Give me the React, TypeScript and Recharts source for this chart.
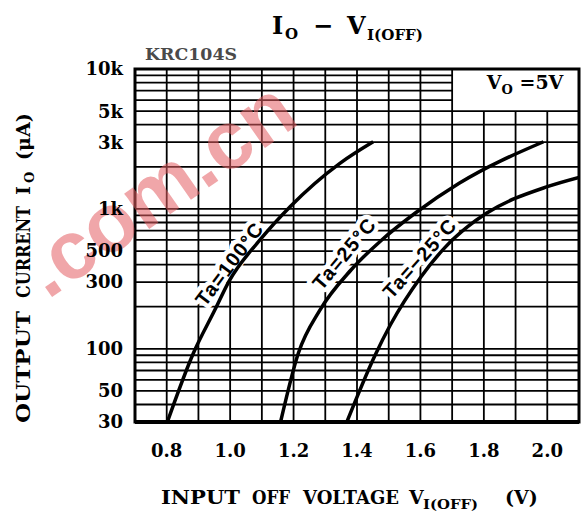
import React from 'react';
import {
  LineChart, Line, XAxis, YAxis, ReferenceLine, ReferenceArea, ReferenceDot,
} from 'recharts';

// ---- data ----
const xTicks = [0.8, 1.0, 1.2, 1.4, 1.6, 1.8, 2.0];
const xGrid = [0.8, 0.9, 1.0, 1.1, 1.2, 1.3, 1.4, 1.5, 1.6, 1.7, 1.8, 1.9, 2.0];
const yTicks = [30, 50, 100, 300, 500, 1000, 3000, 5000, 10000];
const yTickLabels = ['30', '50', '100', '300', '500', '1k', '3k', '5k', '10k'];
const yGrid = [40, 50, 60, 70, 80, 90, 100, 200, 300, 400, 500, 600, 700, 800, 900, 1000, 2000, 3000, 4000, 5000, 6000, 7000, 8000, 9000];

const ta100V = [0.802, 0.884, 0.952, 0.995, 1.094, 1.189, 1.346, 1.451];
const ta100I = [30, 93, 190, 300, 600, 1037, 2118, 3020];
const ta25V = [1.159, 1.215, 1.283, 1.381, 1.478, 1.584, 1.722, 1.988];
const ta25I = [30, 93, 189, 366, 600, 935, 1524, 3020];
const tam25V = [1.368, 1.457, 1.505, 1.602, 1.677, 1.749, 1.808, 2.0, 2.1];
const tam25I = [30, 90, 148, 328, 529, 746, 930, 1442, 1680];

const curveNames = ['Ta=100°C', 'Ta=25°C', 'Ta=−25°C'];
const labelV = [0.998, 1.36, 1.598];
const labelI = [405, 480, 445];
const labelAngle = [-53, -50, -48];

const zip = (vs: number[], is: number[]) => vs.map((v, k) => ({ v, i: is[k] }));
const ta100 = zip(ta100V, ta100I);
const ta25 = zip(ta25V, ta25I);
const tam25 = zip(tam25V, tam25I);

const SERIF = '"DejaVu Serif", serif';
const SANS = '"Liberation Sans", Arial, sans-serif';

const yLabelOf = (v: number) => {
  const k = yTicks.indexOf(v);
  return k >= 0 ? yTickLabels[k] : String(v);
};

const CurveLabel = (text: string, angle: number) => (props: any) => {
  const { cx, cy } = props;
  return (
    <text
      x={cx}
      y={cy}
      transform={`rotate(${angle} ${cx} ${cy})`}
      textAnchor="middle"
      dominantBaseline="central"
      fontFamily={SANS}
      fontWeight="bold"
      fontSize={20}
      letterSpacing={1.2}
      fill="#000"
      stroke="#fff"
      strokeWidth={9}
      strokeLinejoin="round"
      paintOrder="stroke"
    >
      {text}
    </text>
  );
};

const BoxLabel = (props: any) => {
  const { cx, cy } = props;
  return (
    <text x={cx} y={cy} fontFamily={SERIF} fontWeight="bold" fontSize={19} fill="#000" textAnchor="middle">
      <tspan>V</tspan>
      <tspan fontSize={13} dy={5}>O</tspan>
      <tspan dy={-5}> =5V</tspan>
    </text>
  );
};

const FreeTexts = () => (
  <g>
    {/* watermark */}
    <text
      x={163}
      y={215}
      transform="rotate(-35 163 195)"
      textAnchor="middle"
      fontFamily={SANS}
      fontWeight="bold"
      fontSize={82}
      fill="#e45f63"
      opacity={0.55}
    >
      .com.cn
    </text>
    {/* title */}
    <text fontFamily={SERIF} fontWeight="bold" fill="#000">
      <tspan x={272} y={34} fontSize={24}>I</tspan>
      <tspan x={285} y={39} fontSize={15}>O</tspan>
      <tspan x={313} y={34} fontSize={24}>−</tspan>
      <tspan x={347} y={34} fontSize={24}>V</tspan>
      <tspan x={367} y={40} fontSize={15} textLength={56} lengthAdjust="spacingAndGlyphs">I(OFF)</tspan>
    </text>
    {/* part number */}
    <text x={145} y={60} fontFamily={SERIF} fontWeight="bold" fontSize={17} fill="#4a4a4a" textLength={92} lengthAdjust="spacingAndGlyphs">
      KRC104S
    </text>
    {/* y axis title */}
    <g transform="translate(30 423) rotate(-90)">
      <text fontFamily={SERIF} fontWeight="bold" fill="#000" fontSize={19}>
        <tspan x={0} y={0} textLength={112} lengthAdjust="spacingAndGlyphs">OUTPUT</tspan>
        <tspan x={125} y={0} textLength={92} lengthAdjust="spacingAndGlyphs">CURRENT</tspan>
        <tspan x={228} y={0}>I</tspan>
        <tspan x={240} y={4} fontSize={13}>O</tspan>
        <tspan x={263} y={0}>(μA)</tspan>
      </text>
    </g>
  </g>
);

const XTitle = () => (
  <text fontFamily={SERIF} fontWeight="bold" fill="#000" fontSize={19}>
    <tspan x={161} y={504} textLength={79} lengthAdjust="spacingAndGlyphs">INPUT</tspan>
    <tspan x={252} y={504} textLength={38} lengthAdjust="spacingAndGlyphs">OFF</tspan>
    <tspan x={303} y={504} textLength={96} lengthAdjust="spacingAndGlyphs">VOLTAGE</tspan>
    <tspan x={409} y={504}>V</tspan>
    <tspan x={423} y={509} fontSize={13} textLength={55} lengthAdjust="spacingAndGlyphs">I(OFF)</tspan>
    <tspan x={505} y={504}>(V)</tspan>
  </text>
);

export default function App() {
  return (
    <div style={{ position: 'absolute', left: 0, top: 0, width: 581, height: 515, background: '#fff' }}>
      <LineChart width={581} height={515} margin={{ top: 69, right: 2, bottom: 0, left: 0 }}>
        <XAxis
          type="number"
          dataKey="v"
          domain={[0.7, 2.1]}
          ticks={xTicks}
          allowDataOverflow
          axisLine={false}
          tickLine={false}
          tickSize={0}
          tickMargin={22}
          height={93}
          tickFormatter={(v: number) => v.toFixed(1)}
          tick={{ fill: '#000', fontFamily: SERIF, fontWeight: 'bold', fontSize: 18 }}
          label={() => <XTitle />}
        />
        <YAxis
          type="number"
          dataKey="i"
          scale="log"
          domain={[30, 10000]}
          ticks={yTicks}
          allowDataOverflow
          axisLine={false}
          tickLine={false}
          tickSize={0}
          tickMargin={12}
          width={135}
          tickFormatter={yLabelOf}
          tick={{ fill: '#000', fontFamily: SERIF, fontWeight: 'bold', fontSize: 18 }}
          label={() => <FreeTexts />}
        />

        {yGrid.map((g) =>
          g > 5000 ? (
            <ReferenceLine key={'y' + g} segment={[{ x: 0.7, y: g }, { x: 1.7, y: g }]} stroke="#000" strokeWidth={1.8} zIndex={100} />
          ) : (
            <ReferenceLine key={'y' + g} y={g} stroke="#000" strokeWidth={1.8} zIndex={100} />
          )
        )}
        {xGrid.map((g) =>
          g > 1.75 ? (
            <ReferenceLine key={'x' + g} segment={[{ x: g, y: 30 }, { x: g, y: 5000 }]} stroke="#000" strokeWidth={1.8} zIndex={100} />
          ) : (
            <ReferenceLine key={'x' + g} x={g} stroke="#000" strokeWidth={1.8} zIndex={100} />
          )
        )}

        {curveNames.map((n, k) => (
          <ReferenceDot key={n} x={labelV[k]} y={labelI[k]} r={0} zIndex={200} shape={CurveLabel(n, labelAngle[k])} />
        ))}

        <Line data={ta100} dataKey="i" type="monotone" stroke="#000" strokeWidth={3.5} dot={false} isAnimationActive={false} zIndex={300} />
        <Line data={ta25} dataKey="i" type="monotone" stroke="#000" strokeWidth={3.5} dot={false} isAnimationActive={false} zIndex={300} />
        <Line data={tam25} dataKey="i" type="monotone" stroke="#000" strokeWidth={3.5} dot={false} isAnimationActive={false} zIndex={300} />

        <ReferenceArea x1={0.7} x2={2.1} y1={30} y2={10000} fill="none" stroke="#000" strokeWidth={3} zIndex={400} />
        <ReferenceLine y={30} stroke="#000" strokeWidth={4} zIndex={400} />
        <ReferenceDot x={1.93} y={7200} r={0} zIndex={400} shape={BoxLabel} />
      </LineChart>
    </div>
  );
}
